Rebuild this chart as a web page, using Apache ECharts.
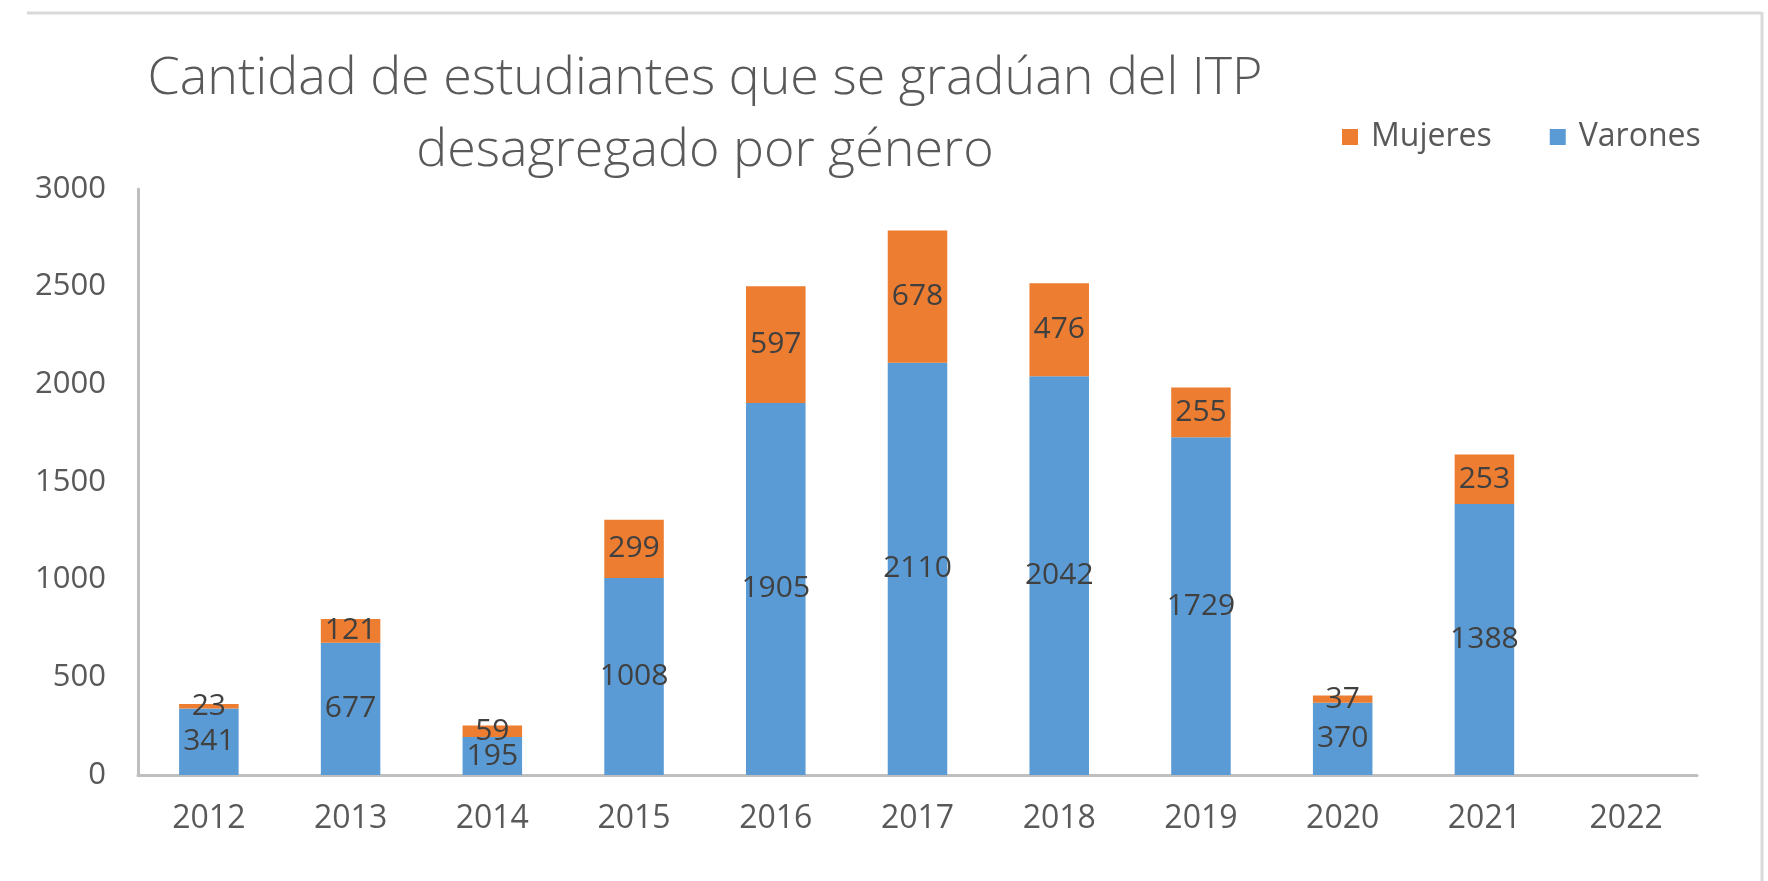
<!DOCTYPE html>
<html>
<head>
<meta charset="utf-8">
<script src="https://cdn.jsdelivr.net/npm/echarts@6/dist/echarts.min.js"></script>
<style>
html,body{margin:0;padding:0;background:#fff;}
#chart{width:1768px;height:881px;}
</style>
</head>
<body>
<div id="chart"></div>
<script>
const categories = ['2012','2013','2014','2015','2016','2017','2018','2019','2020','2021','2022'];
const varones = [341, 677, 195, 1008, 1905, 2110, 2042, 1729, 370, 1388, null];
const mujeres = [23, 121, 59, 299, 597, 678, 476, 255, 37, 253, null];
const yTicks = [0, 500, 1000, 1500, 2000, 2500, 3000];
const titleText = 'Cantidad de estudiantes que se gradúan del ITP\ndesagregado por género';

const FONT = '"Open Sans", "Liberation Sans", sans-serif';
const chart = echarts.init(document.getElementById('chart'));
const labelStyle = {
  show: true, position: 'inside', color: '#404040',
  fontFamily: FONT, fontSize: 30
};
chart.setOption({
  animation: false,
  backgroundColor: '#ffffff',
  title: {
    text: titleText,
    left: 705, top: 43, textAlign: 'center', padding: 0,
    textStyle: { fontFamily: FONT, fontWeight: 300, fontSize: 52, color: '#595959', lineHeight: 72 }
  },
  legend: {
    data: ['Mujeres', 'Varones'],
    left: 1337, top: 116,
    icon: 'rect', itemWidth: 16, itemHeight: 16, itemGap: 58,
    textStyle: { fontFamily: FONT, fontSize: 32, color: '#595959', padding: [0, 0, 0, 8] }
  },
  grid: { left: 138, right: 71, top: 189, bottom: 106, containLabel: false },
  xAxis: {
    type: 'category', data: categories,
    axisLine: { lineStyle: { color: '#BFBFBF', width: 3 } },
    axisTick: { show: false },
    axisLabel: { fontFamily: FONT, fontSize: 32, color: '#595959', margin: 28 }
  },
  yAxis: {
    type: 'value', min: yTicks[0], max: yTicks[yTicks.length - 1], interval: 500,
    axisLine: { show: true, lineStyle: { color: '#BFBFBF', width: 3 } },
    axisTick: { show: false },
    splitLine: { show: false },
    axisLabel: { fontFamily: FONT, fontSize: 31, color: '#595959', margin: 32, formatter: v => String(v) }
  },
  series: [
    {
      name: 'Varones', type: 'bar', stack: 'total', data: varones,
      barWidth: '42%',
      itemStyle: { color: '#5B9BD5' },
      label: labelStyle
    },
    {
      name: 'Mujeres', type: 'bar', stack: 'total', data: mujeres,
      barWidth: '42%',
      itemStyle: { color: '#ED7D31' },
      label: labelStyle
    }
  ],
  graphic: [
    { type: 'line', shape: { x1: 27, y1: 13, x2: 1762, y2: 13 }, style: { stroke: '#D9D9D9', lineWidth: 3 } },
    { type: 'line', shape: { x1: 1762, y1: 12, x2: 1762, y2: 881 }, style: { stroke: '#D9D9D9', lineWidth: 3 } }
  ]
});
</script>
</body>
</html>
